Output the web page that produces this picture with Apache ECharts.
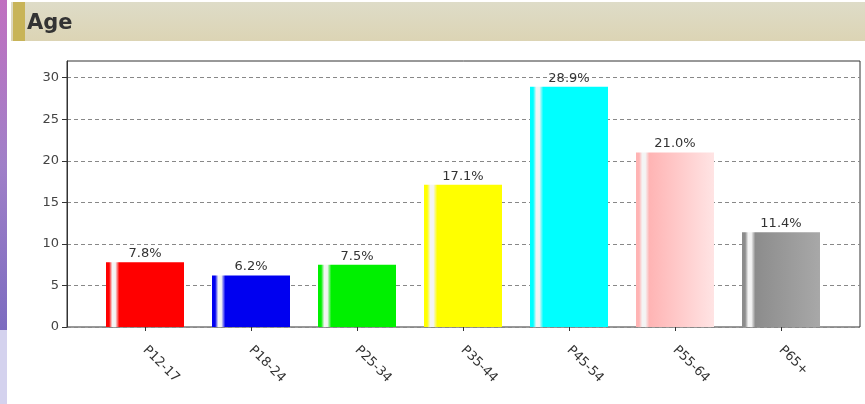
<!DOCTYPE html>
<html>
<head>
<meta charset="utf-8">
<style>
html,body{margin:0;padding:0;background:#fff;}
#chart{width:865px;height:404px;}
</style>
<script src="https://cdn.jsdelivr.net/npm/echarts@6/dist/echarts.min.js"></script>
</head>
<body>
<div id="chart"></div>
<script>
var title = 'Age';
var categories = ['P12-17', 'P18-24', 'P25-34', 'P35-44', 'P45-54', 'P55-64', 'P65+'];
var values = [7.8, 6.2, 7.5, 17.1, 28.9, 21.0, 11.4];
var barColors = ['#ff0000', '#0000f0', '#00f000', '#ffff00', '#00ffff', '#ffb4b4', '#8c8c8c'];
var barEndColors = ['#ff0000', '#0000f0', '#00f000', '#ffff00', '#00ffff', '#ffe4e4', '#a8a8a8'];
var yTicks = [0, 5, 10, 15, 20, 25, 30];

function grad(c, e) {
  return new echarts.graphic.LinearGradient(0, 0, 1, 0, [
    {offset: 0, color: c},
    {offset: 0.04, color: c},
    {offset: 0.08, color: '#f4f4f4'},
    {offset: 0.12, color: '#f4f4f4'},
    {offset: 0.17, color: c},
    {offset: 1, color: e}
  ]);
}

var chart = echarts.init(document.getElementById('chart'), null, {renderer: 'canvas'});
var font = '"DejaVu Sans", Verdana, sans-serif';
chart.setOption({
  animation: false,
  backgroundColor: '#ffffff',
  graphic: [
    {type: 'rect', shape: {x: 0, y: 0, width: 7, height: 330}, z: -1,
     style: {fill: new echarts.graphic.LinearGradient(0, 0, 0, 1, [
       {offset: 0, color: '#c070c0'}, {offset: 0.5, color: '#a080c8'}, {offset: 1, color: '#7c6cc0'}])}},
    {type: 'rect', shape: {x: 0, y: 330, width: 7, height: 74}, z: -1,
     style: {fill: '#d4d2ee'}},
    {type: 'rect', shape: {x: 11, y: 2, width: 854, height: 39}, z: -1,
     style: {fill: new echarts.graphic.LinearGradient(0, 0, 0, 1, [
       {offset: 0, color: '#dedcc8'}, {offset: 1, color: '#dcd4b4'}])}},
    {type: 'rect', shape: {x: 13, y: 2, width: 12, height: 39}, z: 0,
     style: {fill: '#c8b458'}},
    {type: 'text', x: 27, y: 13, z: 1,
     style: {text: title, fill: '#333333', font: 'bold 21px "DejaVu Sans", Verdana, sans-serif'}}
  ],
  grid: [
    {left: 67, right: 5, top: 61, bottom: 77, show: true, borderColor: '#333', borderWidth: 1, backgroundColor: 'transparent'},
    {left: 92, right: 31, top: 61, bottom: 77}
  ],
  xAxis: [
    {type: 'value', gridIndex: 0, min: 0, max: 1, show: false},
    {type: 'category', gridIndex: 1, data: categories,
     axisLine: {show: false},
     axisTick: {show: true, alignWithLabel: true, length: 4, lineStyle: {color: '#333'}},
     axisLabel: {rotate: -45, color: '#333', fontSize: 13, fontFamily: font, margin: 21, interval: 0}}
  ],
  yAxis: [
    {type: 'value', gridIndex: 0, min: 0, max: 32, interval: 5,
     axisLine: {show: true, lineStyle: {color: '#333'}},
     axisTick: {show: true, length: 5, customValues: yTicks, lineStyle: {color: '#333'}},
     axisLabel: {color: '#444', fontSize: 13, fontFamily: font, margin: 8, customValues: yTicks},
     splitLine: {show: true, lineStyle: {color: '#888', type: [4, 3]}}},
    {type: 'value', gridIndex: 1, min: 0, max: 32, show: false, splitLine: {show: false}}
  ],
  series: [{
    type: 'bar', xAxisIndex: 1, yAxisIndex: 1, barWidth: 78,
    data: values.map(function (v, i) {
      return {value: v, itemStyle: {color: grad(barColors[i], barEndColors[i])}};
    }),
    label: {show: true, position: 'top', distance: 2, color: '#333', fontSize: 13, fontFamily: font,
      formatter: function (p) { return p.value.toFixed(1) + '%'; }}
  }]
});
</script>
</body>
</html>
